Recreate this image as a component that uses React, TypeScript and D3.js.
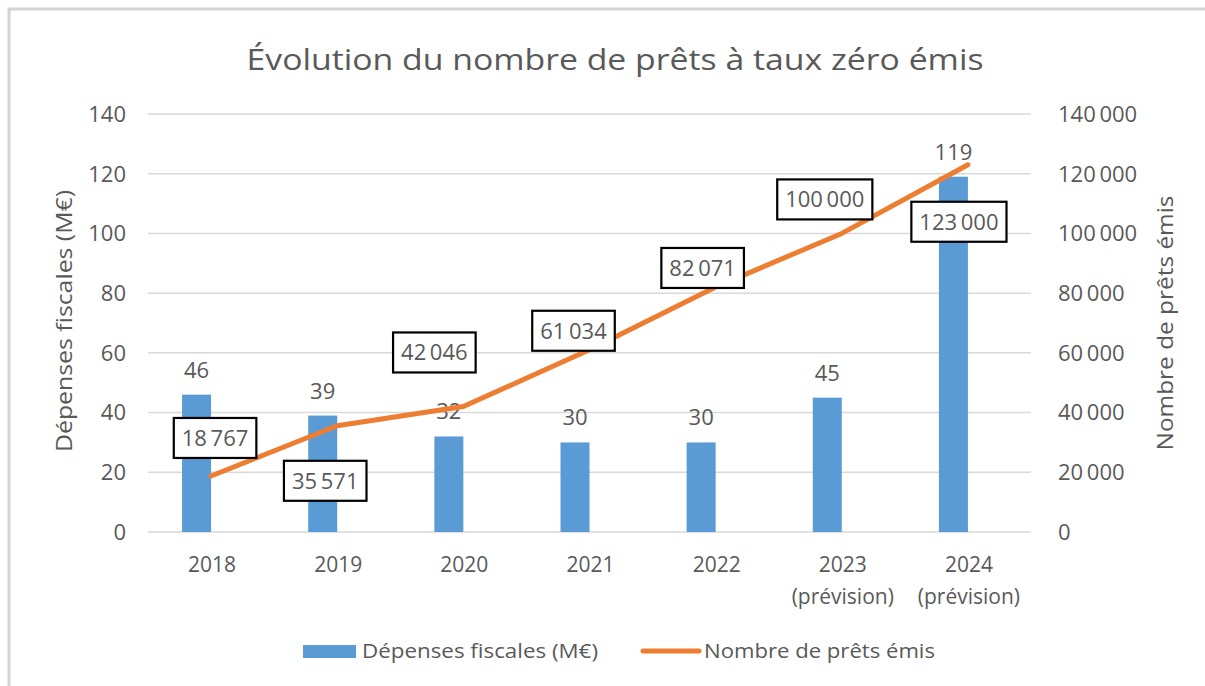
import React, { useEffect, useRef } from "react";
import * as d3 from "d3";

const categories = ["2018", "2019", "2020", "2021", "2022", "2023", "2024"];
const categorySubLabels = ["", "", "", "", "", "(prévision)", "(prévision)"];
const depenses = [46, 39, 32, 30, 30, 45, 119];
const prets = [18767, 35571, 42046, 61034, 82071, 100000, 123000];
const leftTicks = [0, 20, 40, 60, 80, 100, 120, 140];
const rightTicks = [0, 20000, 40000, 60000, 80000, 100000, 120000, 140000];
// label box offsets (centre relative to point), pixels
const labelOffsets: [number, number][] = [
  [4, -38],
  [-12, 55],
  [-29, -54],
  [-16, -19],
  [-13, -19],
  [-17, -34],
  [-9, 57],
];

const W = 1205;
const H = 686;
const FONT = "'Open Sans', 'DejaVu Sans', sans-serif";
const TXT = "#595959";
const BLUE = "#5B9BD5";
const ORANGE = "#ED7D31";
const GRID = "#D9D9D9";

export default function App() {
  const ref = useRef<SVGSVGElement | null>(null);

  useEffect(() => {
    const svg = d3.select(ref.current);
    svg.selectAll("*").remove();

    const fr = d3.formatLocale({ decimal: ",", thousands: "\u2009", grouping: [3], currency: ["", "€"] });
    const fmt = fr.format(",d");

    // frame
    svg.append("rect").attr("width", W).attr("height", H).attr("fill", "#fff");
    svg.append("path")
      .attr("d", `M9,${H} L9,9 L${W},9`)
      .attr("fill", "none").attr("stroke", "#D4D4D4").attr("stroke-width", 3);

    const x = d3.scaleBand<string>().domain(categories).range([148, 1031]).padding(0);
    const yL = d3.scaleLinear().domain([0, 140]).range([532, 114]);
    const yR = d3.scaleLinear().domain([0, 140000]).range([532, 114]);
    const bw = x.bandwidth() * 0.23;
    const cx = (c: string) => (x(c) as number) + x.bandwidth() / 2;

    // title
    svg.append("text")
      .attr("x", 615).attr("y", 70)
      .attr("text-anchor", "middle")
      .attr("font-family", FONT).attr("font-size", 30).attr("fill", TXT)
      .attr("textLength", 737).attr("lengthAdjust", "spacingAndGlyphs")
      .text("Évolution du nombre de prêts à taux zéro émis");

    // gridlines
    svg.append("g").selectAll("line").data(leftTicks).join("line")
      .attr("x1", 148).attr("x2", 1031)
      .attr("y1", (d) => yL(d)).attr("y2", (d) => yL(d))
      .attr("stroke", GRID).attr("stroke-width", 1.5);

    // left ticks
    svg.append("g").selectAll("text").data(leftTicks).join("text")
      .attr("x", 126).attr("y", (d) => yL(d)).attr("dy", "0.36em")
      .attr("text-anchor", "end")
      .attr("font-family", FONT).attr("font-size", 22).attr("fill", TXT)
      .text((d) => String(d));

    // right ticks
    svg.append("g").selectAll("text").data(rightTicks).join("text")
      .attr("x", 1058).attr("y", (d) => yR(d)).attr("dy", "0.36em")
      .attr("text-anchor", "start")
      .attr("font-family", FONT).attr("font-size", 22).attr("fill", TXT)
      .text((d) => fmt(d));

    // axis titles
    svg.append("text")
      .attr("transform", `translate(72,321) rotate(-90)`)
      .attr("text-anchor", "middle")
      .attr("font-family", FONT).attr("font-size", 22).attr("fill", TXT)
      .attr("textLength", 262).attr("lengthAdjust", "spacingAndGlyphs")
      .text("Dépenses fiscales (M€)");
    svg.append("text")
      .attr("transform", `translate(1173,323) rotate(-90)`)
      .attr("text-anchor", "middle")
      .attr("font-family", FONT).attr("font-size", 22).attr("fill", TXT)
      .attr("textLength", 255).attr("lengthAdjust", "spacingAndGlyphs")
      .text("Nombre de prêts émis");

    // x labels
    const xl = svg.append("g");
    categories.forEach((c, i) => {
      xl.append("text")
        .attr("x", cx(c) + 1).attr("y", 572)
        .attr("text-anchor", "middle")
        .attr("font-family", FONT).attr("font-size", 21).attr("fill", TXT)
        .text(c);
      if (categorySubLabels[i]) {
        xl.append("text")
          .attr("x", cx(c) + 1).attr("y", 604)
          .attr("text-anchor", "middle")
          .attr("font-family", FONT).attr("font-size", 21).attr("fill", TXT)
          .text(categorySubLabels[i]);
      }
    });

    // bars
    svg.append("g").selectAll("rect").data(depenses).join("rect")
      .attr("x", (_d, i) => cx(categories[i]) - bw)
      .attr("width", bw)
      .attr("y", (d) => yL(d))
      .attr("height", (d) => yL(0) - yL(d))
      .attr("fill", BLUE);

    // bar labels
    svg.append("g").selectAll("text").data(depenses).join("text")
      .attr("x", (_d, i) => cx(categories[i]) - bw / 2)
      .attr("y", (d) => yL(d) - 17)
      .attr("text-anchor", "middle")
      .attr("font-family", FONT).attr("font-size", 22).attr("fill", TXT)
      .text((d) => String(d));

    // line
    const line = d3.line<number>()
      .x((_d, i) => cx(categories[i]))
      .y((d) => yR(d));
    svg.append("path")
      .datum(prets)
      .attr("d", line)
      .attr("fill", "none").attr("stroke", ORANGE).attr("stroke-width", 5)
      .attr("stroke-linecap", "round").attr("stroke-linejoin", "round");

    // line labels
    const lg = svg.append("g");
    prets.forEach((v, i) => {
      const px = cx(categories[i]) + labelOffsets[i][0];
      const py = yR(v) + labelOffsets[i][1];
      const g = lg.append("g");
      const rect = g.append("rect");
      const t = g.append("text")
        .attr("x", px).attr("y", py).attr("dy", "0.36em")
        .attr("text-anchor", "middle")
        .attr("font-family", FONT).attr("font-size", 22).attr("fill", TXT)
        .text(fmt(v));
      const tw = (t.node() as SVGTextElement).getComputedTextLength();
      const bwid = tw + 16;
      rect.attr("x", px - bwid / 2).attr("y", py - 20)
        .attr("width", bwid).attr("height", 40)
        .attr("fill", "#fff").attr("stroke", "#000").attr("stroke-width", 2.2);
    });

    // legend
    const leg = svg.append("g");
    leg.append("rect").attr("x", 303).attr("y", 645).attr("width", 53).attr("height", 13).attr("fill", BLUE);
    leg.append("text").attr("x", 362).attr("y", 651).attr("dy", "0.36em")
      .attr("font-family", FONT).attr("font-size", 20).attr("fill", TXT)
      .attr("textLength", 236).attr("lengthAdjust", "spacingAndGlyphs")
      .text("Dépenses fiscales (M€)");
    leg.append("line").attr("x1", 643).attr("x2", 699).attr("y1", 651).attr("y2", 651)
      .attr("stroke", ORANGE).attr("stroke-width", 5).attr("stroke-linecap", "round");
    leg.append("text").attr("x", 704).attr("y", 651).attr("dy", "0.36em")
      .attr("font-family", FONT).attr("font-size", 20).attr("fill", TXT)
      .attr("textLength", 231).attr("lengthAdjust", "spacingAndGlyphs")
      .text("Nombre de prêts émis");
  }, []);

  return (
    <svg
      ref={ref}
      width={W}
      height={H}
      style={{ position: "absolute", left: 0, top: 0, display: "block" }}
    />
  );
}
